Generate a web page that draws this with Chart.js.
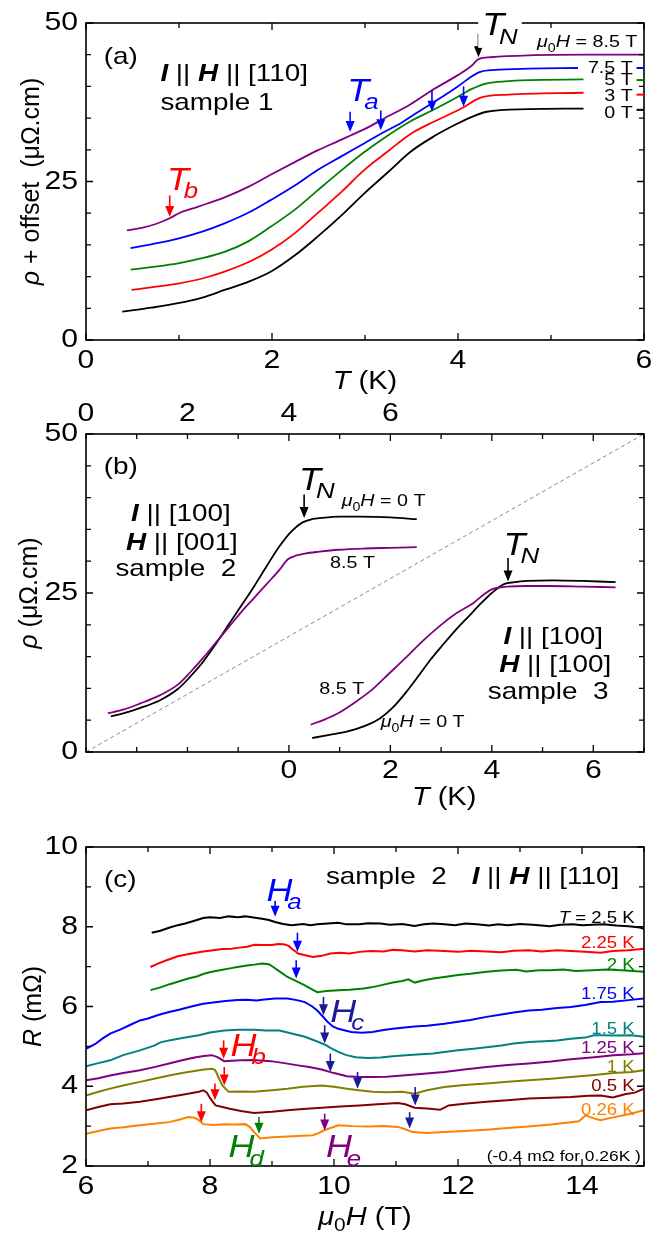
<!DOCTYPE html>
<html lang="en">
<head>
  <meta charset="UTF-8" />
  <title>Resistivity and magnetoresistance</title>
  <script src="https://cdn.jsdelivr.net/npm/chart.js"></script>
  <style>
    body { margin: 0; background: #fff; }
    .panel { position: absolute; left: 0; width: 664px; }
  </style>
</head>
<body>
  <div class="panel" style="top:0;height:400px"><canvas id="chartA"></canvas></div>
  <div class="panel" style="top:400px;height:420px"><canvas id="chartB"></canvas></div>
  <div class="panel" style="top:820px;height:421px"><canvas id="chartC"></canvas></div>

  <script>
    // ---------- panel (a): rho + offset vs T, sample 1, I || H || [110] ----------
    const rhoA_0T = [[0.39,4.46],[0.7,5.1],[0.99,5.8],[1.25,6.7],[1.49,7.9],[1.75,9.2],[1.99,10.8],[2.25,13.4],[2.49,16.3],[2.75,19.7],[2.99,23.1],[3.25,26.5],[3.49,29.7],[3.75,32.2],[3.99,34.1],[4.15,35.2],[4.31,36.0],[4.76,36.4],[5.35,36.5]];
    const rhoA_3T = [[0.49,7.9],[0.7,8.3],[0.99,8.9],[1.25,9.7],[1.49,10.8],[1.75,12.3],[1.99,14.2],[2.25,16.9],[2.49,20.0],[2.75,23.4],[2.99,26.8],[3.25,29.8],[3.49,32.5],[3.75,34.5],[4.06,36.7],[4.18,37.8],[4.26,38.3],[4.54,38.7],[5.35,39.0]];
    const rhoA_5T = [[0.48,11.1],[0.7,11.5],[0.99,12.1],[1.25,12.9],[1.49,13.9],[1.75,15.6],[1.99,17.9],[2.25,20.6],[2.49,23.6],[2.75,26.8],[2.99,29.6],[3.25,32.3],[3.49,34.5],[3.72,36.2],[3.99,38.3],[4.15,39.6],[4.29,40.4],[4.5,40.8],[4.76,41.0],[5.35,41.1]];
    const rhoA_75T = [[0.48,14.5],[0.7,15.1],[0.99,16.0],[1.25,17.1],[1.49,18.4],[1.75,20.1],[1.99,22.1],[2.25,24.4],[2.49,26.8],[2.75,29.0],[2.99,31.0],[3.19,32.7],[3.35,33.9],[3.49,35.2],[3.75,37.6],[3.99,39.9],[4.15,41.6],[4.24,42.3],[4.4,42.6],[4.76,42.8],[5.29,42.9]];
    const rhoA_85T = [[0.44,17.3],[0.6,17.7],[0.75,18.3],[0.9,19.2],[1.0,20.0],[1.2,21.0],[1.49,22.5],[1.75,24.2],[1.99,26.1],[2.25,28.1],[2.49,29.9],[2.7,31.3],[2.85,32.3],[3.0,33.3],[3.2,34.9],[3.49,37.2],[3.72,39.4],[3.99,41.7],[4.15,43.3],[4.22,44.3],[4.35,44.6],[4.76,44.9],[5.4,45.0],[6.0,45.0]];
    const fieldLabelsA = ['0 T', '3 T', '5 T', '7.5 T'];

    // ---------- panel (b): rho vs T, samples 2 (top T axis) and 3 (bottom T axis) ----------
    const rhoS2_0T = [[0.49,5.6],[0.75,6.1],[1.06,6.9],[1.45,8.1],[1.81,9.9],[2.05,11.8],[2.31,14.2],[2.56,17.0],[2.81,20.0],[3.06,23.0],[3.31,26.0],[3.56,29.2],[3.81,32.3],[4.05,34.7],[4.27,36.1],[4.45,36.6],[4.64,36.8],[5.0,37.0],[5.39,37.0],[6.0,36.9],[6.52,36.6]];
    const rhoS2_85T = [[0.43,6.1],[0.75,6.7],[1.06,7.6],[1.45,8.9],[1.81,10.6],[2.05,12.5],[2.31,14.8],[2.56,17.2],[2.81,19.6],[3.06,22.0],[3.31,24.2],[3.56,26.4],[3.81,28.6],[3.98,30.3],[4.15,30.9],[4.31,31.2],[4.6,31.5],[4.98,31.8],[5.5,32.0],[6.0,32.1],[6.52,32.2]];
    const rhoS3_0T = [[0.46,2.2],[0.8,2.7],[1.14,3.2],[1.5,4.1],[1.8,5.3],[2.05,7.0],[2.3,9.3],[2.55,11.9],[2.79,14.5],[3.04,16.9],[3.29,19.2],[3.54,21.3],[3.79,23.4],[4.0,25.0],[4.24,26.4],[4.45,26.7],[4.7,26.9],[5.2,27.0],[5.8,26.9],[6.44,26.7]];
    const rhoS3_85T = [[0.43,4.3],[0.7,5.1],[0.97,6.1],[1.3,7.8],[1.64,9.8],[1.97,12.3],[2.3,14.8],[2.63,17.4],[2.97,19.8],[3.3,21.8],[3.63,23.4],[3.85,24.8],[4.01,25.6],[4.3,26.0],[4.7,26.1],[5.12,26.1],[5.8,26.0],[6.44,25.9]];
    const guideB = [[-4,0],[7,50]];

    // ---------- panel (c): R vs mu0H at fixed T, sample 2 ----------
    const rC_250 = [[7.06,7.85],[7.2,7.9],[7.35,7.98],[7.48,8.04],[7.6,8.08],[7.75,8.15],[7.89,8.22],[8.0,8.24],[8.16,8.22],[8.3,8.26],[8.45,8.24],[8.57,8.26],[8.7,8.23],[8.84,8.2],[8.95,8.17],[9.05,8.12],[9.18,8.07],[9.32,8.04],[9.5,8.07],[9.62,8.04],[9.73,8.06],[9.9,8.08],[10.07,8.1],[10.2,8.06],[10.41,8.06],[10.55,8.09],[10.75,8.08],[10.9,8.05],[11.1,8.07],[11.3,8.02],[11.45,8.06],[11.6,8.08],[11.78,8.06],[11.95,8.04],[12.12,8.08],[12.3,8.06],[12.5,8.03],[12.65,8.06],[12.8,8.04],[13.0,8.07],[13.2,8.05],[13.35,8.03],[13.48,8.01],[13.65,8.05],[13.85,8.06],[14.0,8.04],[14.17,8.05],[14.35,8.06],[14.55,8.03],[14.75,8.01],[14.9,7.99],[15.0,7.95]];
    const rC_225 = [[7.04,6.99],[7.15,7.07],[7.3,7.16],[7.48,7.26],[7.6,7.3],[7.75,7.34],[7.89,7.38],[8.05,7.41],[8.2,7.44],[8.35,7.45],[8.44,7.47],[8.6,7.5],[8.72,7.55],[8.84,7.54],[9.0,7.54],[9.1,7.57],[9.19,7.56],[9.27,7.52],[9.32,7.45],[9.38,7.38],[9.42,7.33],[9.52,7.29],[9.66,7.24],[9.8,7.27],[9.94,7.33],[10.1,7.35],[10.25,7.33],[10.41,7.37],[10.6,7.39],[10.8,7.38],[10.95,7.42],[11.1,7.41],[11.3,7.38],[11.5,7.41],[11.78,7.39],[12.0,7.37],[12.2,7.4],[12.46,7.38],[12.7,7.36],[12.9,7.4],[13.14,7.41],[13.35,7.38],[13.6,7.41],[13.82,7.39],[14.05,7.37],[14.3,7.35],[14.5,7.39],[14.75,7.41],[15.0,7.45]];
    const rC_200 = [[7.04,6.41],[7.2,6.48],[7.35,6.56],[7.48,6.62],[7.65,6.7],[7.8,6.76],[7.9,6.82],[8.03,6.87],[8.2,6.92],[8.3,6.95],[8.44,6.99],[8.6,7.03],[8.72,7.05],[8.84,7.08],[8.95,7.06],[9.02,6.99],[9.12,6.88],[9.25,6.74],[9.4,6.63],[9.53,6.53],[9.63,6.44],[9.73,6.36],[9.88,6.39],[10.07,6.41],[10.25,6.42],[10.48,6.45],[10.6,6.48],[10.75,6.53],[10.95,6.6],[11.1,6.64],[11.2,6.68],[11.3,6.6],[11.45,6.66],[11.6,6.7],[11.78,6.74],[12.0,6.79],[12.2,6.82],[12.46,6.87],[12.7,6.9],[12.94,6.92],[13.1,6.88],[13.3,6.91],[13.48,6.91],[13.7,6.93],[13.9,6.89],[14.17,6.91],[14.4,6.93],[14.7,6.9],[15.0,6.87]];
    const rC_175 = [[6.0,4.94],[6.15,5.06],[6.27,5.2],[6.39,5.32],[6.55,5.42],[6.7,5.53],[6.87,5.65],[7.0,5.7],[7.15,5.78],[7.34,5.86],[7.5,5.92],[7.7,6.0],[7.89,6.07],[8.05,6.1],[8.25,6.14],[8.44,6.16],[8.6,6.17],[8.75,6.15],[8.84,6.17],[9.05,6.2],[9.25,6.2],[9.4,6.16],[9.53,6.11],[9.65,6.0],[9.73,5.9],[9.82,5.75],[9.9,5.61],[9.98,5.5],[10.07,5.44],[10.18,5.4],[10.28,5.36],[10.45,5.34],[10.62,5.36],[10.8,5.41],[10.95,5.44],[11.1,5.47],[11.3,5.5],[11.5,5.52],[11.78,5.57],[12.0,5.62],[12.2,5.66],[12.46,5.74],[12.7,5.8],[12.9,5.85],[13.14,5.9],[13.35,5.92],[13.6,5.96],[13.82,5.99],[14.05,6.04],[14.3,6.11],[14.5,6.12],[14.75,6.16],[15.0,6.2]];
    const rC_150 = [[6.0,4.5],[6.2,4.58],[6.39,4.65],[6.6,4.78],[6.87,4.9],[7.1,5.02],[7.2,5.1],[7.34,5.15],[7.6,5.22],[7.82,5.28],[8.0,5.35],[8.23,5.4],[8.45,5.42],[8.71,5.42],[8.9,5.4],[9.12,5.4],[9.3,5.33],[9.53,5.24],[9.7,5.14],[9.87,5.03],[9.97,4.94],[10.07,4.86],[10.2,4.78],[10.35,4.73],[10.55,4.71],[10.75,4.72],[10.95,4.75],[11.16,4.78],[11.4,4.8],[11.6,4.82],[11.78,4.86],[12.0,4.9],[12.25,4.94],[12.46,4.98],[12.7,5.02],[12.9,5.07],[13.14,5.11],[13.4,5.13],[13.6,5.15],[13.82,5.19],[14.05,5.22],[14.2,5.28],[14.3,5.28],[14.55,5.27],[14.8,5.28],[15.0,5.24]];
    const rC_125 = [[6.0,4.15],[6.2,4.2],[6.39,4.27],[6.6,4.33],[6.87,4.4],[7.1,4.48],[7.34,4.57],[7.55,4.65],[7.75,4.72],[7.9,4.76],[8.03,4.78],[8.12,4.73],[8.23,4.63],[8.35,4.64],[8.5,4.65],[8.7,4.66],[8.98,4.63],[9.2,4.58],[9.39,4.53],[9.6,4.48],[9.8,4.42],[10.0,4.33],[10.21,4.25],[10.4,4.23],[10.62,4.23],[10.85,4.24],[11.1,4.27],[11.4,4.31],[11.78,4.36],[12.1,4.42],[12.46,4.48],[12.8,4.53],[13.14,4.57],[13.5,4.62],[13.82,4.68],[14.2,4.73],[14.51,4.78],[14.8,4.8],[15.0,4.83]];
    const rC_100 = [[6.0,3.77],[6.2,3.86],[6.39,3.94],[6.6,4.02],[6.87,4.11],[7.1,4.19],[7.34,4.27],[7.55,4.33],[7.75,4.38],[7.9,4.42],[8.03,4.44],[8.08,4.41],[8.11,4.32],[8.15,4.18],[8.2,4.02],[8.3,3.86],[8.5,3.87],[8.71,3.86],[9.0,3.9],[9.25,3.94],[9.5,3.99],[9.8,4.02],[10.0,3.99],[10.21,3.94],[10.4,3.9],[10.62,3.86],[10.85,3.85],[11.1,3.86],[11.3,3.81],[11.5,3.9],[11.78,3.98],[12.1,4.03],[12.46,4.07],[12.8,4.11],[13.14,4.15],[13.5,4.19],[13.82,4.23],[14.2,4.28],[14.51,4.33],[14.8,4.36],[15.0,4.4]];
    const rC_050 = [[6.0,3.4],[6.2,3.48],[6.39,3.55],[6.6,3.57],[6.87,3.61],[7.1,3.67],[7.34,3.73],[7.6,3.8],[7.82,3.86],[7.89,3.9],[7.95,3.84],[7.99,3.73],[8.04,3.62],[8.09,3.52],[8.2,3.48],[8.3,3.44],[8.5,3.38],[8.71,3.33],[9.0,3.36],[9.25,3.4],[9.5,3.43],[9.8,3.46],[10.1,3.49],[10.41,3.52],[10.7,3.55],[11.03,3.58],[11.15,3.55],[11.3,3.46],[11.5,3.44],[11.71,3.41],[11.85,3.52],[12.1,3.56],[12.46,3.61],[12.8,3.65],[13.14,3.69],[13.5,3.71],[13.82,3.73],[14.1,3.76],[14.3,3.77],[14.5,3.72],[14.69,3.8],[14.85,3.84],[15.0,3.94]];
    const rC_026 = [[6.0,2.81],[6.2,2.88],[6.39,2.94],[6.6,2.97],[6.87,3.02],[7.1,3.06],[7.34,3.1],[7.5,3.16],[7.65,3.23],[7.75,3.21],[7.82,3.15],[7.89,3.05],[8.05,3.03],[8.23,3.05],[8.4,3.04],[8.57,3.05],[8.65,2.97],[8.71,2.85],[8.78,2.74],[8.81,2.69],[9.0,2.72],[9.25,2.74],[9.5,2.76],[9.66,2.77],[9.76,2.83],[9.83,2.89],[10.07,3.02],[10.3,3.0],[10.55,2.99],[10.8,3.0],[11.03,2.98],[11.15,2.92],[11.27,2.85],[11.5,2.83],[11.78,2.85],[12.1,2.88],[12.46,2.91],[12.8,2.95],[13.14,2.99],[13.5,3.04],[13.82,3.1],[13.95,3.12],[14.06,3.27],[14.18,3.2],[14.3,3.15],[14.5,3.22],[14.75,3.3],[15.0,3.4]];
    const tempLabelsC = ['T = 2.5 K', '2.25 K', '2 K', '1.75 K', '1.5 K', '1.25 K', '1 K', '0.5 K', '0.26 K'];

    // tick values
    const ticksA_x = [0, 2, 4, 6];
    const ticksA_y = [0, 25, 50];
    const ticksB_bottom = [0, 2, 4, 6];
    const ticksB_top = [0, 2, 4, 6];
    const ticksB_y = [0, 25, 50];
    const ticksC_x = [6, 8, 10, 12, 14];
    const ticksC_y = [2, 4, 6, 8, 10];

    const FONT = '"Liberation Sans", Arial, sans-serif';
    const STRETCH = 1.16;
    const BLUE = '#0000ff', NAVY = '#1a1a9c', RED = '#ff0000', GREEN = '#008000', PURPLE = '#800080';
    const TEAL = '#008080', OLIVE = '#808000', DRED = '#800000', ORANGE = '#ff8000';

    function runFont(st, size) {
      const sz = st.includes('s') ? size * 0.72 : size;
      return (st.includes('i') ? 'italic ' : '') + (st.includes('b') ? 'bold ' : '') + sz + 'px ' + FONT;
    }
    // k = tuck the subscript under the preceding italic capital
    function runShift(st, size) { return st.includes('k') ? -0.14 * size : 0; }
    function richWidth(ctx, runs, size) {
      let w = 0;
      for (const [t, st0] of runs) {
        const st = st0 || '';
        ctx.font = runFont(st, size);
        w += ctx.measureText(t).width + runShift(st, size);
      }
      return w;
    }
    // draws text made of styled runs; i = italic, b = bold, s = subscript
    function drawRich(ctx, x, y, runs, size, color, align, rotate, bg) {
      const stretch = rotate ? 1 : STRETCH;
      const w = richWidth(ctx, runs, size) * stretch;
      let x0 = align === 'center' ? -w / 2 : align === 'right' ? -w : 0;
      ctx.save();
      ctx.translate(x, y);
      if (rotate) ctx.rotate(-Math.PI / 2);
      if (bg) { ctx.fillStyle = '#fff'; ctx.fillRect(x0 - 4, -size * 0.62, w + 8, size * 1.3); }
      ctx.translate(x0, 0);
      ctx.scale(stretch, 1);
      ctx.fillStyle = color || '#000';
      ctx.textBaseline = 'middle';
      ctx.textAlign = 'left';
      let cx = 0;
      for (const [t, st0] of runs) {
        const st = st0 || '';
        ctx.font = runFont(st, size);
        cx += runShift(st, size);
        ctx.fillText(t, cx, st.includes('s') ? size * 0.34 : 0);
        cx += ctx.measureText(t).width;
      }
      ctx.restore();
    }
    function drawArrow(ctx, x, y1, y2, color) {
      ctx.save();
      ctx.strokeStyle = color; ctx.fillStyle = color; ctx.lineWidth = 1.6;
      ctx.beginPath(); ctx.moveTo(x, y1); ctx.lineTo(x, y2 - 8); ctx.stroke();
      ctx.beginPath(); ctx.moveTo(x - 4.5, y2 - 11); ctx.lineTo(x + 4.5, y2 - 11); ctx.lineTo(x, y2); ctx.closePath(); ctx.fill();
      ctx.restore();
    }

    // frame, inward ticks, tick labels, titles and annotations
    const decor = {
      id: 'decor',
      afterDraw(chart, args, o) {
        const ctx = chart.ctx, a = chart.chartArea;
        const xs = chart.scales.x, ys = chart.scales.y;
        const px = v => xs.getPixelForValue(v), py = v => ys.getPixelForValue(v);
        ctx.save();
        ctx.strokeStyle = '#000'; ctx.lineWidth = 1.6;
        ctx.strokeRect(a.left, a.top, a.right - a.left, a.bottom - a.top);
        ctx.lineWidth = 1.3;
        ctx.beginPath();
        for (let v = xs.min; v <= xs.max + 1e-9; v += o.xStep) {
          const len = o.xLabels.includes(v) ? 7 : 5;
          ctx.moveTo(px(v), a.bottom); ctx.lineTo(px(v), a.bottom - len);
          ctx.moveTo(px(v), a.top); ctx.lineTo(px(v), a.top + len);
        }
        for (let v = ys.min; v <= ys.max + 1e-9; v += o.yStep) {
          const len = o.yLabels.includes(v) ? 7 : 5;
          ctx.moveTo(a.left, py(v)); ctx.lineTo(a.left + len, py(v));
          ctx.moveTo(a.right, py(v)); ctx.lineTo(a.right - len, py(v));
        }
        ctx.stroke();
        ctx.restore();

        for (const v of o.xLabels) drawRich(ctx, px(v), a.bottom + o.xLabelDy, [[String(v), '']], 26, '#000', 'center');
        for (const v of o.yLabels) drawRich(ctx, a.left - 8, py(v), [[String(v), '']], 26, '#000', 'right');
        if (o.topLabels) {
          const xt = chart.scales.xTop;
          for (const v of o.topLabels) drawRich(ctx, xt.getPixelForValue(v), a.top - 20, [[String(v), '']], 26, '#000', 'center');
        }
        const t = o.xTitle;
        drawRich(ctx, t.x == null ? (a.left + a.right) / 2 : px(t.x), a.bottom + t.dy, t.runs, 25, '#000', 'center');
        drawRich(ctx, o.yTitle.dx, (a.top + a.bottom) / 2, o.yTitle.runs, 25, '#000', 'center', true);

        for (const s of (o.segs || [])) {
          ctx.save(); ctx.strokeStyle = s.color; ctx.lineWidth = 2;
          ctx.beginPath(); ctx.moveTo(px(s.x0), py(s.y)); ctx.lineTo(px(s.x1), py(s.y)); ctx.stroke(); ctx.restore();
        }
        for (const ar of (o.arrows || [])) drawArrow(ctx, px(ar[0]), py(ar[1]), py(ar[2]), ar[3]);
        for (const tx of (o.texts || [])) drawRich(ctx, px(tx.x), py(tx.y), tx.runs, tx.size, tx.color, tx.align, false, tx.bg);
      }
    };
    Chart.register(decor);

    function series(points, color, extra) {
      return Object.assign({
        data: points.map(p => ({ x: p[0], y: p[1] })),
        borderColor: color, borderWidth: 1.8, pointRadius: 0, fill: false,
        cubicInterpolationMode: 'monotone'
      }, extra || {});
    }
    function baseOptions(padding, xr, yr, decorOpts) {
      return {
        responsive: true, maintainAspectRatio: false, animation: false,
        layout: { padding: padding },
        plugins: { legend: { display: false }, tooltip: { enabled: false }, decor: decorOpts },
        scales: {
          x: { type: 'linear', display: false, min: xr[0], max: xr[1] },
          y: { type: 'linear', display: false, min: yr[0], max: yr[1] }
        }
      };
    }
    const mu0H = (rest) => [['μ', 'i'], ['0', 's'], ['H', 'i'], [rest, '']];

    // ---------- chart (a) ----------
    new Chart(document.getElementById('chartA'), {
      type: 'line',
      data: { datasets: [
        series(rhoA_0T, '#000'), series(rhoA_3T, RED), series(rhoA_5T, GREEN),
        series(rhoA_75T, BLUE), series(rhoA_85T, PURPLE)
      ] },
      options: baseOptions({ left: 86, right: 20, top: 23, bottom: 60 }, [0, 6], [0, 50], {
        xStep: 1, yStep: 5, xLabels: ticksA_x, yLabels: ticksA_y, xLabelDy: 21,
        xTitle: { dy: 42, runs: [['T', 'i'], [' (K)', '']] },
        yTitle: { dx: 32, runs: [['ρ', 'i'], [' + offset  (μΩ.cm)', '']] },
        segs: [
          { x0: 5.92, x1: 6.0, y: 42.9, color: BLUE }, { x0: 5.92, x1: 6.0, y: 41.0, color: GREEN },
          { x0: 5.92, x1: 6.0, y: 38.7, color: RED }, { x0: 5.92, x1: 6.0, y: 36.3, color: '#000' }
        ],
        arrows: [
          [4.22, 48.3, 44.6, '#000'], [2.84, 36.0, 32.8, BLUE], [3.17, 36.2, 33.1, BLUE],
          [3.72, 39.4, 36.0, BLUE], [4.06, 40.0, 36.8, BLUE], [0.9, 22.8, 19.4, RED]
        ],
        texts: [
          { x: 0.19, y: 44.5, runs: [['(a)', '']], size: 24 },
          { x: 0.8, y: 41.9, runs: [['I', 'bi'], [' || ', ''], ['H', 'bi'], [' || [110]', '']], size: 24 },
          { x: 0.8, y: 37.3, runs: [['sample 1', '']], size: 24 },
          { x: 4.26, y: 49.4, runs: [['T', 'i'], ['N', 'isk']], size: 31, bg: true },
          { x: 4.85, y: 46.9, runs: mu0H(' = 8.5 T'), size: 17 },
          { x: 5.88, y: 42.9, runs: [[fieldLabelsA[3], '']], size: 17, align: 'right' },
          { x: 5.88, y: 40.9, runs: [[fieldLabelsA[2], '']], size: 17, align: 'right' },
          { x: 5.88, y: 38.5, runs: [[fieldLabelsA[1], '']], size: 17, align: 'right' },
          { x: 5.88, y: 35.7, runs: [[fieldLabelsA[0], '']], size: 17, align: 'right' },
          { x: 2.81, y: 39.0, runs: [['T', 'i'], ['a', 'isk']], size: 31, color: BLUE },
          { x: 0.87, y: 25.0, runs: [['T', 'i'], ['b', 'isk']], size: 31, color: RED }
        ]
      })
    });

    // ---------- chart (b) ----------
    const optsB = baseOptions({ left: 86, right: 20, top: 34, bottom: 68 }, [-4, 7], [0, 50], {
      xStep: 1, yStep: 5, xLabels: ticksB_bottom, yLabels: ticksB_y, topLabels: ticksB_top, xLabelDy: 19,
      xTitle: { x: 3.06, dy: 46, runs: [['T', 'i'], [' (K)', '']] },
      yTitle: { dx: 30, runs: [['ρ', 'i'], [' (μΩ.cm)', '']] },
      arrows: [[0.3, 40.5, 36.8, '#000'], [4.32, 30.5, 26.8, '#000']],
      texts: [
        { x: -3.65, y: 44.7, runs: [['(b)', '']], size: 24 },
        { x: 0.2, y: 42.6, runs: [['T', 'i'], ['N', 'isk']], size: 31 },
        { x: 1.04, y: 39.4, runs: mu0H(' = 0 T'), size: 17 },
        { x: -2.13, y: 37.3, runs: [['I', 'bi'], [' || [100]', '']], size: 24, align: 'center' },
        { x: -2.11, y: 32.8, runs: [['H', 'bi'], [' || [001]', '']], size: 24, align: 'center' },
        { x: -2.23, y: 28.7, runs: [['sample  2', '']], size: 24, align: 'center' },
        { x: 0.81, y: 29.6, runs: [['8.5 T', '']], size: 17 },
        { x: 4.23, y: 32.4, runs: [['T', 'i'], ['N', 'isk']], size: 31 },
        { x: 5.21, y: 18.1, runs: [['I', 'bi'], [' || [100]', '']], size: 24, align: 'center' },
        { x: 5.25, y: 13.6, runs: [['H', 'bi'], [' || [100]', '']], size: 24, align: 'center' },
        { x: 5.11, y: 9.3, runs: [['sample  3', '']], size: 24, align: 'center' },
        { x: 0.6, y: 9.8, runs: [['8.5 T', '']], size: 17 },
        { x: 1.81, y: 4.6, runs: mu0H(' = 0 T'), size: 17 }
      ]
    });
    optsB.scales.xTop = { type: 'linear', display: false, position: 'top', min: 0, max: 11 };
    new Chart(document.getElementById('chartB'), {
      type: 'line',
      data: { datasets: [
        series(guideB, '#8a8a8a', { borderWidth: 1, borderDash: [4, 3], cubicInterpolationMode: 'default', tension: 0 }),
        series(rhoS2_85T, PURPLE, { xAxisID: 'xTop' }),
        series(rhoS2_0T, '#000', { xAxisID: 'xTop' }),
        series(rhoS3_85T, PURPLE),
        series(rhoS3_0T, '#000')
      ] },
      options: optsB
    });

    // ---------- chart (c) ----------
    const noisy = { cubicInterpolationMode: 'default', tension: 0, borderWidth: 2 };
    new Chart(document.getElementById('chartC'), {
      type: 'line',
      data: { datasets: [
        series(rC_250, '#000', noisy), series(rC_225, RED, noisy), series(rC_200, GREEN, noisy),
        series(rC_175, BLUE, noisy), series(rC_150, TEAL, noisy), series(rC_125, PURPLE, noisy),
        series(rC_100, OLIVE, noisy), series(rC_050, DRED, noisy), series(rC_026, ORANGE, noisy)
      ] },
      options: baseOptions({ left: 86, right: 20, top: 27, bottom: 75 }, [6, 15], [2, 10], {
        xStep: 1, yStep: 1, xLabels: ticksC_x, yLabels: ticksC_y, xLabelDy: 21,
        xTitle: { dy: 52, runs: mu0H(' (T)') },
        yTitle: { dx: 34, runs: [['R', 'i'], [' (mΩ)', '']] },
        arrows: [
          [9.05, 8.65, 8.25, BLUE], [9.41, 7.85, 7.37, BLUE], [9.39, 7.16, 6.7, BLUE],
          [9.83, 6.24, 5.78, NAVY], [9.85, 5.53, 5.07, NAVY], [9.94, 4.82, 4.36, NAVY],
          [10.38, 4.36, 3.94, NAVY], [11.31, 3.98, 3.52, NAVY], [11.22, 3.35, 2.94, NAVY],
          [8.22, 5.15, 4.69, RED], [8.23, 4.48, 4.02, RED], [8.08, 4.07, 3.65, RED], [7.86, 3.56, 3.1, RED],
          [8.79, 3.23, 2.81, GREEN], [9.85, 3.31, 2.89, PURPLE]
        ],
        texts: [
          { x: 6.29, y: 9.17, runs: [['(c)', '']], size: 24 },
          { x: 9.87, y: 9.25, runs: [['sample  2', '']], size: 24 },
          { x: 12.22, y: 9.25, runs: [['I', 'bi'], [' || ', ''], ['H', 'bi'], [' || [110]', '']], size: 24 },
          { x: 8.91, y: 8.87, runs: [['H', 'i'], ['a', 'isk']], size: 31, color: BLUE },
          { x: 9.94, y: 5.82, runs: [['H', 'i'], ['c', 'isk']], size: 31, color: NAVY },
          { x: 8.33, y: 4.98, runs: [['H', 'i'], ['b', 'isk']], size: 31, color: RED },
          { x: 8.3, y: 2.43, runs: [['H', 'i'], ['d', 'isk']], size: 31, color: GREEN },
          { x: 9.87, y: 2.43, runs: [['H', 'i'], ['e', 'isk']], size: 31, color: PURPLE },
          { x: 14.95, y: 2.24, runs: [['(-0.4 mΩ for 0.26K )', '']], size: 15, align: 'right' },
          { x: 14.85, y: 8.2, runs: [['T', 'i'], [' = 2.5 K', '']], size: 16, align: 'right' },
          { x: 14.85, y: 7.58, runs: [[tempLabelsC[1], '']], size: 16, align: 'right', color: RED },
          { x: 14.85, y: 7.03, runs: [[tempLabelsC[2], '']], size: 16, align: 'right', color: GREEN },
          { x: 14.85, y: 6.31, runs: [[tempLabelsC[3], '']], size: 16, align: 'right', color: BLUE },
          { x: 14.85, y: 5.42, runs: [[tempLabelsC[4], '']], size: 16, align: 'right', color: TEAL },
          { x: 14.85, y: 4.94, runs: [[tempLabelsC[5], '']], size: 16, align: 'right', color: PURPLE },
          { x: 14.85, y: 4.48, runs: [[tempLabelsC[6], '']], size: 16, align: 'right', color: OLIVE },
          { x: 14.85, y: 3.98, runs: [[tempLabelsC[7], '']], size: 16, align: 'right', color: DRED },
          { x: 14.85, y: 3.4, runs: [[tempLabelsC[8], '']], size: 16, align: 'right', color: ORANGE }
        ]
      })
    });
  </script>
</body>
</html>
